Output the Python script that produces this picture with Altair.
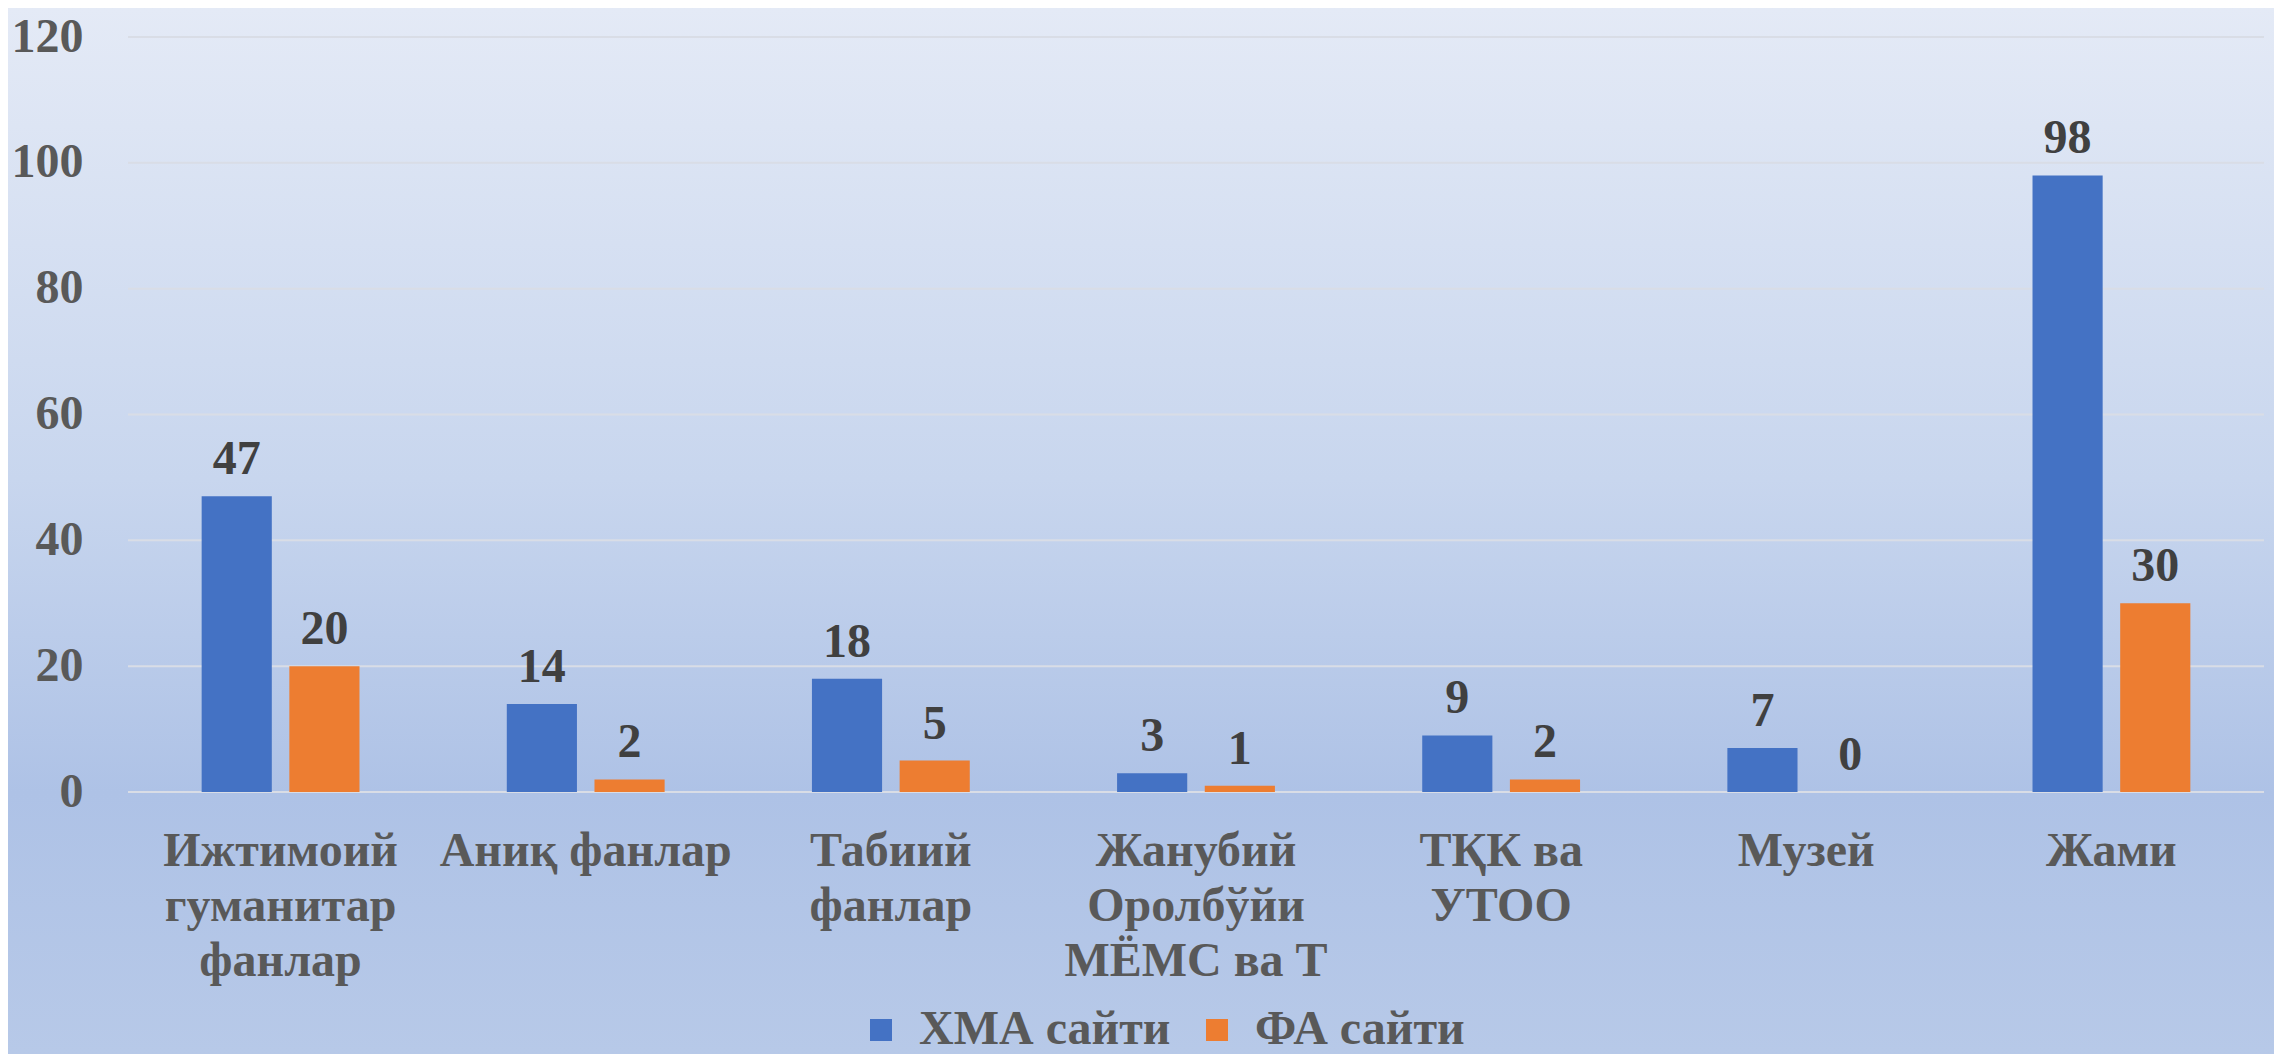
import altair as alt
import pandas as pd

categories = [
    "Ижтимоий\nгуманитар\nфанлар",
    "Аниқ фанлар",
    "Табиий\nфанлар",
    "Жанубий\nОролбўйи\nМЁМС ва Т",
    "ТҚК ва\nУТОО",
    "Музей",
    "Жами",
]
series = ["ХМА сайти", "ФА сайти"]
xma_values = [47, 14, 18, 3, 9, 7, 98]
fa_values = [20, 2, 5, 1, 2, 0, 30]
y_ticks = [0, 20, 40, 60, 80, 100, 120]
colors = ["#4472C4", "#ED7D31"]

rows = []
for c, a, b in zip(categories, xma_values, fa_values):
    rows.append({"category": c, "series": series[0], "value": a})
    rows.append({"category": c, "series": series[1], "value": b})
df = pd.DataFrame(rows)
grid_df = pd.DataFrame({"value": y_ticks})

W, H = 2136, 755
PAD = {"left": 120, "top": 29, "right": 10, "bottom": 262}
FONT = "Liberation Serif"
LABEL_COLOR = "#595959"

y_scale = alt.Scale(domain=[0, 120], nice=False, zero=True)

x_axis = alt.Axis(
    title=None, labelAngle=0, labelExpr="split(datum.label, '\\n')",
    labelFontSize=48, labelFont=FONT, labelFontWeight="bold",
    labelColor=LABEL_COLOR, labelPadding=35, labelLineHeight=55,
    labelLimit=0, domain=False, ticks=False, grid=False, zindex=2,
)
y_axis = alt.Axis(
    title=None, values=y_ticks, labelFontSize=48, labelFont=FONT,
    labelFontWeight="bold", labelColor=LABEL_COLOR, labelPadding=45,
    domain=False, ticks=False, grid=False, zindex=2,
)

x_enc = alt.X("category:N", sort=categories,
              scale=alt.Scale(paddingInner=0, paddingOuter=0), axis=x_axis)
y_enc = alt.Y("value:Q", scale=y_scale, axis=y_axis)
xoff_enc = alt.XOffset(
    "series:N", sort=series,
    scale=alt.Scale(domain=series, paddingInner=0.2, paddingOuter=0.84),
)

bg = alt.Chart(pd.DataFrame({"k": [0]})).mark_rect(
    color=alt.LinearGradient(
        gradient="linear",
        stops=[
            alt.GradientStop(offset=0, color="#e4eaf6"),
            alt.GradientStop(offset=0.45, color="#c8d6ee"),
            alt.GradientStop(offset=0.75, color="#aec2e6"),
            alt.GradientStop(offset=1, color="#b7c9e8"),
        ],
        x1=0, x2=0, y1=0, y2=1,
    )
).encode(
    x=alt.value(-PAD["left"]), x2=alt.value(W + PAD["right"]),
    y=alt.value(-PAD["top"]), y2=alt.value(H + PAD["bottom"]),
)

grid = alt.Chart(grid_df).mark_rule(color="#d9dde6", strokeWidth=2).encode(
    y=y_enc
)

bars = alt.Chart(df).mark_bar().encode(
    x=x_enc,
    xOffset=xoff_enc,
    y=y_enc,
    color=alt.Color(
        "series:N", sort=series,
        scale=alt.Scale(domain=series, range=colors),
        legend=alt.Legend(
            title=None, orient="none", legendX=729, legendY=969,
            direction="horizontal", symbolType="square", symbolSize=484,
            symbolStrokeWidth=0, symbolOpacity=1,
            labelFontSize=48, labelFont=FONT, labelFontWeight="bold",
            labelColor=LABEL_COLOR, labelOffset=14, columnPadding=22,
            padding=0, labelLimit=0, zindex=2,
        ),
    ),
)

labels = alt.Chart(df).mark_text(
    font=FONT, fontSize=48, fontWeight="bold", color="#404040",
    baseline="alphabetic", dy=-22,
).encode(
    x=x_enc,
    xOffset=xoff_enc,
    y=y_enc,
    text=alt.Text("value:Q"),
)

chart = alt.layer(bg, grid, bars, labels).properties(
    width=W, height=H, padding=PAD,
    autosize=alt.AutoSizeParams(type="none"),
).configure_view(stroke=None).configure(background="#b7c9e8")

chart.save("out.html", embed_options={"renderer": "svg", "actions": False})
